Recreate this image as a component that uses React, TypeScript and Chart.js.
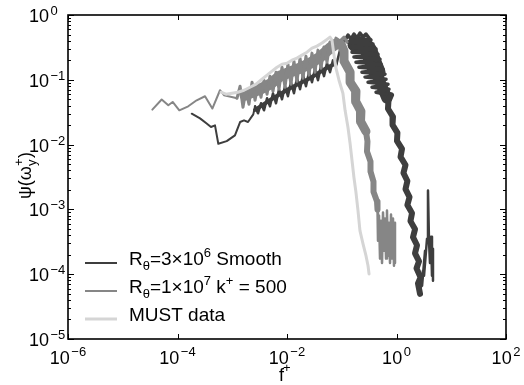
import React, { useEffect, useRef } from 'react';
import { Chart, registerables } from 'chart.js';

Chart.register(...registerables);

const FONT = '"Liberation Sans", Arial, Helvetica, sans-serif';

// ---- axis ticks ----
const xTickValues = [1e-6, 1e-4, 1e-2, 1, 1e2];
const xTickExponents = ['\u22126', '\u22124', '\u22122', '0', '2'];
const yTickValues = [1e-5, 1e-4, 1e-3, 1e-2, 1e-1, 1];
const yTickExponents = ['\u22125', '\u22124', '\u22123', '\u22122', '\u22121', '0'];
const yMinorMultipliers = [2, 3, 4, 5, 6, 7, 8, 9];

// ---- MUST data ----
const lightF = [6.24e-4, 7.69e-4, 9.88e-4, 1.27e-3, 1.64e-3, 2.11e-3, 2.72e-3, 3.49e-3, 4.32e-3, 5.32e-3, 6.57e-3, 8.11e-3, 1.0e-2, 1.23e-2, 1.52e-2, 1.88e-2, 2.32e-2, 2.86e-2, 3.52e-2, 4.36e-2, 5.16e-2, 0.061, 0.0663, 0.0722, 0.0785, 0.0891, 0.105, 0.115, 0.13, 0.142, 0.154, 0.167, 0.182, 0.198, 0.215, 0.244, 0.277, 0.302, 0.315];
const lightPsi = [0.0643, 0.0599, 0.062, 0.0643, 0.069, 0.0768, 0.0855, 0.102, 0.118, 0.136, 0.156, 0.174, 0.18, 0.201, 0.216, 0.24, 0.267, 0.308, 0.331, 0.369, 0.41, 0.456, 0.41, 0.24, 0.151, 0.0986, 0.062, 0.0338, 0.0184, 0.0104, 5.69e-3, 3.11e-3, 1.82e-3, 9.58e-4, 4.7e-4, 2.96e-4, 1.93e-4, 1.35e-4, 1.01e-4];

// ---- R_theta = 1e7, k+ = 500 ----
const medSparseF = [3.47e-5, 5.14e-5, 6.79e-5, 8.16e-5, 1.08e-4, 1.57e-4, 2.24e-4, 3.18e-4, 4.33e-4, 5.97e-4, 7.06e-4, 9.77e-4, 1.22e-3];
const medSparsePsi = [0.0347, 0.0496, 0.0404, 0.0455, 0.0338, 0.039, 0.0483, 0.0557, 0.036, 0.069, 0.0578, 0.0543, 0.0519];
const medRiseF = [1.22e-3, 1.39e-3, 1.57e-3, 1.78e-3, 2.02e-3, 2.3e-3, 2.61e-3, 2.95e-3, 3.35e-3, 3.8e-3, 4.32e-3, 4.89e-3, 5.55e-3, 6.3e-3, 7.14e-3, 8.11e-3, 9.19e-3, 1.04e-2, 1.18e-2, 1.34e-2, 1.52e-2, 1.73e-2, 1.96e-2, 2.22e-2, 2.52e-2, 2.86e-2, 3.24e-2, 3.68e-2, 4.18e-2, 4.74e-2, 5.38e-2, 6.1e-2, 6.92e-2, 0.0785, 0.0929, 0.11, 0.125];
const medRisePsi = [0.0519, 0.0796, 0.0376, 0.069, 0.0419, 0.0918, 0.0483, 0.0855, 0.0538, 0.0986, 0.0599, 0.114, 0.0666, 0.131, 0.0715, 0.156, 0.0768, 0.174, 0.0855, 0.194, 0.0951, 0.216, 0.106, 0.232, 0.118, 0.258, 0.131, 0.287, 0.151, 0.32, 0.187, 0.382, 0.267, 0.44, 0.396, 0.456, 0.382];
const medCoreF = [1.71e-3, 3.21e-3, 4.89e-3, 7.45e-3, 1.13e-2, 1.73e-2, 2.63e-2, 4.01e-2, 6.1e-2, 7.85e-2];
const medCorePsi = [0.0578, 0.0715, 0.0855, 0.114, 0.131, 0.151, 0.18, 0.224, 0.308, 0.356];
const medDropUpperF = [0.0969, 0.11, 0.11, 0.142, 0.142, 0.182, 0.179, 0.224, 0.22, 0.277];
const medDropUpperPsi = [0.356, 0.277, 0.194, 0.131, 0.0918, 0.0666, 0.0466, 0.0326, 0.0229, 0.016];
const medDropLowerF = [0.277, 0.295, 0.289, 0.335, 0.335, 0.38, 0.38, 0.441, 0.45];
const medDropLowerPsi = [0.016, 0.0112, 7.85e-3, 5.49e-3, 3.85e-3, 2.69e-3, 1.88e-3, 1.32e-3, 9.94e-4];
const medBlockF = [0.45, 0.459, 0.479, 0.5, 0.521, 0.544, 0.567, 0.592, 0.617, 0.644, 0.67, 0.699, 0.729, 0.761, 0.794, 0.828, 0.863, 0.9, 0.939, 0.939];
const medBlockPsi = [9.94e-4, 3.29e-4, 8.02e-4, 1.74e-4, 6.71e-4, 1.49e-4, 8.92e-4, 2.3e-4, 7.21e-4, 1.74e-4, 9.58e-4, 1.93e-4, 6.25e-4, 1.49e-4, 8.31e-4, 1.74e-4, 7.21e-4, 1.35e-4, 6.25e-4, 1.49e-4];

// ---- R_theta = 3e6, smooth ----
const darkSparseF = [1.82e-4, 2.58e-4, 3.41e-4, 4.09e-4, 4.84e-4, 5.56e-4, 7.92e-4, 1.12e-3, 1.39e-3, 1.64e-3, 1.94e-3, 2.42e-3, 2.61e-3];
const darkSparsePsi = [0.03, 0.0254, 0.0211, 0.0187, 0.0198, 0.0103, 0.0113, 0.0139, 0.0223, 0.0237, 0.0223, 0.0293, 0.039];
const darkRiseF = [2.61e-3, 2.95e-3, 3.35e-3, 3.8e-3, 4.32e-3, 4.89e-3, 5.55e-3, 6.3e-3, 7.14e-3, 8.11e-3, 9.19e-3, 1.04e-2, 1.18e-2, 1.34e-2, 1.52e-2, 1.73e-2, 1.96e-2, 2.22e-2, 2.52e-2, 2.86e-2, 3.24e-2, 3.68e-2, 4.18e-2, 4.74e-2, 5.38e-2, 6.1e-2, 6.92e-2, 7.85e-2, 9.29e-2, 0.115];
const darkRisePsi = [0.039, 0.0304, 0.0434, 0.0338, 0.0519, 0.039, 0.062, 0.0434, 0.0715, 0.05, 0.0797, 0.0558, 0.0918, 0.062, 0.106, 0.0715, 0.118, 0.0797, 0.131, 0.0918, 0.146, 0.0986, 0.163, 0.114, 0.181, 0.131, 0.201, 0.163, 0.287, 0.41];
const darkRiseCoreF = [2.61e-3, 5.55e-3, 1.18e-2, 2.52e-2, 5.38e-2, 7.85e-2];
const darkRiseCorePsi = [0.0344, 0.0519, 0.0754, 0.104, 0.153, 0.18];
const darkPeakF = [0.115, 0.13, 0.148, 0.167, 0.19, 0.215, 0.244, 0.277, 0.315, 0.342, 0.13, 0.372, 0.142, 0.423, 0.154, 0.459, 0.167, 0.5, 0.182, 0.521, 0.206, 0.567, 0.234, 0.617, 0.266, 0.644, 0.302, 0.699, 0.357, 0.729, 0.423, 0.794];
const darkPeakPsi = [0.41, 0.49, 0.425, 0.508, 0.44, 0.527, 0.456, 0.508, 0.44, 0.41, 0.382, 0.356, 0.32, 0.298, 0.267, 0.249, 0.224, 0.208, 0.187, 0.174, 0.156, 0.146, 0.131, 0.122, 0.11, 0.102, 0.0918, 0.0855, 0.0768, 0.0715, 0.0643, 0.0578];
const darkPeakCoreF = [0.182, 0.266, 0.315, 0.372, 0.441];
const darkPeakCorePsi = [0.356, 0.331, 0.277, 0.187, 0.131];
const darkShoulderCoreF = [0.423, 0.521, 0.67];
const darkShoulderCorePsi = [0.141, 0.0855, 0.0519];
const darkFallF = [0.794, 0.714, 0.699, 0.863, 0.846, 1.04, 1.02, 1.26, 1.185, 1.46, 1.34, 1.58, 1.46, 1.73, 1.58, 1.92, 1.8, 2.18, 2.0, 2.37, 2.18, 2.58, 2.32, 2.75, 2.47, 2.69];
const darkFallPsi = [0.0578, 0.0483, 0.0357, 0.0268, 0.0202, 0.0152, 0.0114, 8.58e-3, 6.45e-3, 4.85e-3, 3.65e-3, 2.74e-3, 2.06e-3, 1.55e-3, 1.17e-3, 8.76e-4, 6.59e-4, 4.96e-4, 3.73e-4, 2.8e-4, 2.1e-4, 1.58e-4, 1.23e-4, 8.95e-5, 7.22e-5, 4.97e-5];
const darkTailF = [2.69, 3.05, 2.93, 3.32, 3.18, 3.61, 3.76, 3.92, 4.09, 4.27, 4.45, 4.64, 4.64];
const darkTailPsi = [4.97e-5, 1.13e-4, 6.61e-5, 2.3e-4, 9.44e-5, 3.53e-4, 1.95e-3, 3.29e-4, 1.49e-4, 3.79e-4, 9.44e-5, 2.47e-4, 7.9e-5];

// ---- legend ----
type Part = { t: string; k: 'n' | 'sub' | 'sup' };
const legendRows: Part[][] = [
  [{ t: 'R', k: 'n' }, { t: '\u03b8', k: 'sub' }, { t: '=3\u00d710', k: 'n' }, { t: '6', k: 'sup' }, { t: ' Smooth', k: 'n' }],
  [{ t: 'R', k: 'n' }, { t: '\u03b8', k: 'sub' }, { t: '=1\u00d710', k: 'n' }, { t: '7', k: 'sup' }, { t: ' k', k: 'n' }, { t: '+', k: 'sup' }, { t: ' = 500', k: 'n' }],
  [{ t: 'MUST data', k: 'n' }],
];

const DARK = '#3e3e3e';
const MEDIUM = '#868686';
const LIGHT = '#d5d5d5';
const legendColors = [DARK, MEDIUM, LIGHT];
const legendWidths = [2, 2, 3];

const pts = (f: number[], p: number[]) => f.map((v, i) => ({ x: v, y: p[i] }));

function drawRich(ctx: CanvasRenderingContext2D, parts: Part[], x: number, base: number, size: number) {
  let cx = x;
  for (let i = 0; i < parts.length; i++) {
    const p = parts[i];
    if (p.k === 'n') {
      ctx.font = `${size}px ${FONT}`;
      ctx.fillText(p.t, cx, base);
      cx += ctx.measureText(p.t).width;
    } else {
      const s = Math.round(size * 0.7);
      ctx.font = `${s}px ${FONT}`;
      ctx.fillText(p.t, cx, base + (p.k === 'sub' ? 5 : -8));
      cx += ctx.measureText(p.t).width;
    }
  }
  return cx;
}

const framePlugin = {
  id: 'matlabFrame',
  afterDraw(chart: any) {
    const { ctx, chartArea } = chart;
    const { left, right, top, bottom } = chartArea;
    const xs = chart.scales.x;
    const ys = chart.scales.y;
    ctx.save();
    ctx.strokeStyle = '#000';
    ctx.fillStyle = '#000';
    ctx.lineWidth = 1;
    ctx.beginPath();
    yTickValues.forEach((v) => {
      const p = Math.round(ys.getPixelForValue(v)) + 0.5;
      ctx.moveTo(left, p); ctx.lineTo(left + 6, p);
      ctx.moveTo(right, p); ctx.lineTo(right - 6, p);
    });
    for (let i = 0; i < yTickValues.length - 1; i++) {
      yMinorMultipliers.forEach((m) => {
        const p = Math.round(ys.getPixelForValue(yTickValues[i] * m)) + 0.5;
        ctx.moveTo(left, p); ctx.lineTo(left + 3, p);
        ctx.moveTo(right, p); ctx.lineTo(right - 3, p);
      });
    }
    xTickValues.forEach((v) => {
      const p = Math.round(xs.getPixelForValue(v)) + 0.5;
      ctx.moveTo(p, bottom); ctx.lineTo(p, bottom - 5);
      ctx.moveTo(p, top); ctx.lineTo(p, top + 5);
    });
    ctx.stroke();
    ctx.lineWidth = 1.6;
    ctx.strokeRect(left, top, right - left, bottom - top);

    // tick labels
    ctx.textBaseline = 'alphabetic';
    ctx.textAlign = 'left';
    const big = 18;
    const small = 13;
    yTickValues.forEach((v, i) => {
      const p = ys.getPixelForValue(v);
      ctx.font = `${big}px ${FONT}`;
      ctx.fillText('10', 29, p + 7);
      const w = ctx.measureText('10').width;
      ctx.font = `${small}px ${FONT}`;
      ctx.fillText(yTickExponents[i], 29 + w + 1.5, p);
    });
    xTickValues.forEach((v, i) => {
      const p = xs.getPixelForValue(v);
      ctx.font = `${big}px ${FONT}`;
      const w10 = ctx.measureText('10').width;
      ctx.font = `${small}px ${FONT}`;
      const we = ctx.measureText(xTickExponents[i]).width;
      const start = p - (w10 + 1.5 + we) / 2;
      ctx.font = `${big}px ${FONT}`;
      ctx.fillText('10', start, bottom + 25);
      ctx.font = `${small}px ${FONT}`;
      ctx.fillText(xTickExponents[i], start + w10 + 1.5, bottom + 17);
    });

    // x title f+
    ctx.font = `${big}px ${FONT}`;
    ctx.fillText('f', 279, 381);
    ctx.font = `${small}px ${FONT}`;
    ctx.fillText('+', 283, 372);

    // y title psi(omega_y^+)
    ctx.save();
    ctx.translate(31, 199);
    ctx.rotate(-Math.PI / 2);
    ctx.font = `${big}px ${FONT}`;
    ctx.fillText('\u03c8(\u03c9', 0, 0);
    let w = ctx.measureText('\u03c8(\u03c9').width;
    ctx.font = `${small}px ${FONT}`;
    ctx.fillText('y', w, 5);
    ctx.fillText('+', w, -8);
    w += Math.max(ctx.measureText('y').width, ctx.measureText('+').width) + 0.5;
    ctx.font = `${big}px ${FONT}`;
    ctx.fillText(')', w, 0);
    ctx.restore();

    // legend
    const lineYs = [263, 291, 319];
    const baseYs = [264.5, 292.5, 321];
    legendRows.forEach((row, i) => {
      ctx.strokeStyle = legendColors[i];
      ctx.lineWidth = legendWidths[i];
      ctx.beginPath();
      ctx.moveTo(85, lineYs[i]);
      ctx.lineTo(117, lineYs[i]);
      ctx.stroke();
      ctx.fillStyle = '#000';
      drawRich(ctx, row, 129, baseYs[i], 19);
    });
    ctx.restore();
  },
};

export default function App() {
  const ref = useRef<HTMLCanvasElement | null>(null);
  useEffect(() => {
    document.body.style.margin = '0';
    const canvas = ref.current;
    if (!canvas) return;
    const common = { pointRadius: 0, fill: false, tension: 0, borderJoinStyle: 'round' as const, borderCapStyle: 'round' as const, showLine: true };
    const chart = new Chart(canvas, {
      type: 'scatter',
      data: {
        datasets: [
          { ...common, label: 'MUST data', data: pts(lightF, lightPsi), borderColor: LIGHT, borderWidth: 3 },
          { ...common, label: 'k500 block', data: pts(medBlockF, medBlockPsi), borderColor: MEDIUM, borderWidth: 2.5 },
          { ...common, label: 'k500 drop low', data: pts(medDropLowerF, medDropLowerPsi), borderColor: MEDIUM, borderWidth: 6 },
          { ...common, label: 'k500 drop up', data: pts(medDropUpperF, medDropUpperPsi), borderColor: MEDIUM, borderWidth: 9 },
          { ...common, label: 'k500 rise', data: pts(medRiseF, medRisePsi), borderColor: MEDIUM, borderWidth: 3 },
          { ...common, label: 'k500 core', data: pts(medCoreF, medCorePsi), borderColor: MEDIUM, borderWidth: 11 },
          { ...common, label: 'k500 low', data: pts(medSparseF, medSparsePsi), borderColor: MEDIUM, borderWidth: 2 },
          { ...common, label: 'smooth tail', data: pts(darkTailF, darkTailPsi), borderColor: DARK, borderWidth: 2.5 },
          { ...common, label: 'smooth fall', data: pts(darkFallF, darkFallPsi), borderColor: DARK, borderWidth: 6 },
          { ...common, label: 'smooth peak', data: pts(darkPeakF, darkPeakPsi), borderColor: DARK, borderWidth: 3.5 },
          { ...common, label: 'smooth peak core', data: pts(darkPeakCoreF, darkPeakCorePsi), borderColor: DARK, borderWidth: 17 },
          { ...common, label: 'smooth shoulder core', data: pts(darkShoulderCoreF, darkShoulderCorePsi), borderColor: DARK, borderWidth: 11 },
          { ...common, label: 'smooth rise', data: pts(darkRiseF, darkRisePsi), borderColor: DARK, borderWidth: 2.5 },
          { ...common, label: 'smooth rise core', data: pts(darkRiseCoreF, darkRiseCorePsi), borderColor: DARK, borderWidth: 4 },
          { ...common, label: 'smooth low', data: pts(darkSparseF, darkSparsePsi), borderColor: DARK, borderWidth: 2 },
        ],
      },
      options: {
        responsive: false,
        maintainAspectRatio: false,
        devicePixelRatio: 1,
        animation: false,
        layout: { padding: { left: 68, right: 18, top: 15, bottom: 46 } },
        plugins: { legend: { display: false }, tooltip: { enabled: false } },
        scales: {
          x: { type: 'logarithmic', min: 1e-6, max: 1e2, display: false },
          y: { type: 'logarithmic', min: 1e-5, max: 1, display: false },
        },
      },
      plugins: [framePlugin],
    });
    return () => chart.destroy();
  }, []);
  return <canvas ref={ref} width={524} height={385} style={{ display: 'block' }} />;
}
